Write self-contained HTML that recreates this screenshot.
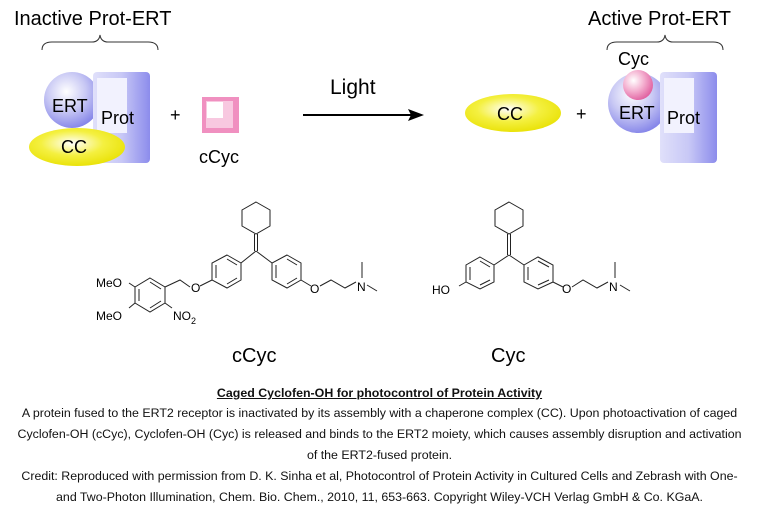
<!DOCTYPE html>
<html><head><meta charset="utf-8"><style>
body{margin:0;background:#fff;width:759px;height:515px;overflow:hidden;font-family:"Liberation Sans",sans-serif}
.cap{position:absolute;left:0;width:759px;text-align:center;font-size:12.4px;color:#111;line-height:21px}
</style></head><body>
<svg width="759" height="380" style="position:absolute;left:0;top:0" font-family="Liberation Sans, sans-serif">
<defs>
<radialGradient id="gb" cx="0.4" cy="0.35" r="0.7"><stop offset="0" stop-color="#fff"/><stop offset="0.5" stop-color="#c8c8f4"/><stop offset="1" stop-color="#8080e8"/></radialGradient>
<radialGradient id="gy" cx="0.45" cy="0.4" r="0.65"><stop offset="0" stop-color="#fff"/><stop offset="0.5" stop-color="#f4f040"/><stop offset="1" stop-color="#e8e000"/></radialGradient>
<radialGradient id="gp" cx="0.35" cy="0.35" r="0.7"><stop offset="0" stop-color="#fff"/><stop offset="0.5" stop-color="#f4b0d0"/><stop offset="1" stop-color="#e060a0"/></radialGradient>
<linearGradient id="gr" x1="0" y1="0" x2="1" y2="0"><stop offset="0" stop-color="#e0e0fa"/><stop offset="0.5" stop-color="#c8c8f6"/><stop offset="1" stop-color="#8c8cec"/></linearGradient>
</defs>
<g fill="#000" font-size="20">
<text x="14" y="25">Inactive Prot-ERT</text>
<text x="588" y="25">Active Prot-ERT</text>
</g>
<g fill="none" stroke="#333" stroke-width="1">
<path d="M42 50 Q42 42 52 42 L92 42 Q99 42 100 35 Q101 42 108 42 L148 42 Q158 42 158 50"/>
<path d="M607 50 Q607 42 617 42 L657 42 Q664 42 665 35 Q666 42 673 42 L713 42 Q723 42 723 50"/>
</g>
<!-- inactive -->
<circle cx="72" cy="100" r="28" fill="url(#gb)"/>
<rect x="93" y="72" width="57" height="91" rx="4" fill="url(#gr)"/>
<rect x="97" y="78" width="30" height="55" fill="#f2f2fe"/>
<ellipse cx="77" cy="147" rx="48" ry="19" fill="url(#gy)"/>
<rect x="202" y="97" width="37" height="36" fill="#f090c0"/>
<rect x="206" y="101" width="27" height="27" fill="#f8c8e0"/>
<rect x="207" y="102" width="16" height="16" fill="#fff"/>
<line x1="303" y1="115" x2="412" y2="115" stroke="#000" stroke-width="2"/>
<path d="M424 115 L408 109 L411 115 L408 121Z" fill="#000"/>
<!-- active -->
<ellipse cx="513" cy="113" rx="48" ry="19" fill="url(#gy)"/>
<circle cx="638" cy="103" r="30" fill="url(#gb)"/>
<circle cx="638" cy="85" r="15" fill="url(#gp)"/>
<rect x="660" y="72" width="57" height="91" rx="4" fill="url(#gr)"/>
<rect x="664" y="78" width="30" height="55" fill="#f2f2fe"/>
<g font-size="18" fill="#000">
<text x="52" y="112">ERT</text><text x="101" y="124">Prot</text><text x="61" y="153">CC</text>
<text x="170" y="121">+</text><text x="199" y="163">cCyc</text>
<text x="330" y="94" font-size="21">Light</text>
<text x="497" y="120">CC</text><text x="576" y="120">+</text>
<text x="618" y="65">Cyc</text><text x="619" y="119">ERT</text><text x="667" y="124">Prot</text>
</g>
<!-- cCyc molecule -->
<g fill="none" stroke="#222" stroke-width="1">
<polygon points="256,202 270,210 270,226 256,234 242,226 242,210"/>
<line x1="254.5" y1="234" x2="254.5" y2="251"/><line x1="257.5" y1="234" x2="257.5" y2="251"/>
<line x1="256" y1="251" x2="241" y2="263"/><line x1="256" y1="251" x2="272" y2="263"/>
<polygon points="227,255 241,263 241,280 227,288 212,280 212,263"/>
<path d="M227,259 L237,265 M237,278 L227,284 M216,278 L216,265"/>
<polygon points="287,255 301,263 301,280 287,288 272,280 272,263"/>
<path d="M287,259 L297,265 M297,278 L287,284 M276,278 L276,265"/>
<line x1="212" y1="280" x2="200" y2="286"/>
<path d="M190 287 L180 280 L165 287"/>
<polygon points="150,278 165,287 165,303 150,312 135,303 135,287"/>
<path d="M150,282 L161,289 M161,301 L150,308 M139,301 L139,289"/>
<line x1="135" y1="287" x2="129" y2="283"/><line x1="135" y1="303" x2="129" y2="308"/>
<line x1="165" y1="303" x2="172" y2="308"/>
<path d="M301 280 L311 286 M320 286 L331 280 L345 288 L356 282"/>
<path d="M362 278 L362 262 M367 285 L377 291"/>
</g>
<g font-size="12" fill="#000">
<text x="96" y="287">MeO</text><text x="96" y="320">MeO</text>
<text x="173" y="320">NO</text><text x="191" y="324" font-size="9">2</text>
<text x="191" y="292">O</text><text x="310" y="293">O</text><text x="357" y="291">N</text>
</g>
<!-- Cyc molecule -->
<g fill="none" stroke="#222" stroke-width="1">
<polygon points="509,202 523,210 523,226 509,234 495,226 495,210"/>
<line x1="507.5" y1="234" x2="507.5" y2="255"/><line x1="510.5" y1="234" x2="510.5" y2="255"/>
<line x1="509" y1="255" x2="494" y2="265"/><line x1="509" y1="255" x2="524" y2="265"/>
<polygon points="480,257 494,265 494,282 480,289 466,282 466,265"/>
<path d="M480,261 L490,267 M490,280 L480,285 M470,280 L470,267"/>
<polygon points="538,257 553,265 553,282 538,289 524,282 524,265"/>
<path d="M538,261 L549,267 M549,280 L538,285 M528,280 L528,267"/>
<line x1="466" y1="282" x2="459" y2="286"/>
<path d="M553 282 L563 287 M572 287 L583 280 L597 288 L608 282"/>
<path d="M615 278 L615 262 M620 285 L630 291"/>
</g>
<g font-size="12" fill="#000">
<text x="432" y="294">HO</text><text x="562" y="293">O</text><text x="609" y="291">N</text>
</g>
<text x="232" y="362" font-size="20">cCyc</text>
<text x="491" y="362" font-size="20">Cyc</text>
</svg>
<div class="cap" style="top:383px"><b><u>Caged Cyclofen-OH for photocontrol of Protein Activity</u></b></div>
<div class="cap" style="top:403px">A protein fused to the ERT2 receptor is inactivated by its assembly with a chaperone complex (CC). Upon photoactivation of caged<br>Cyclofen-OH (cCyc), Cyclofen-OH (Cyc) is released and binds to the ERT2 moiety, which causes assembly disruption and activation<br>of the ERT2-fused protein.</div>
<div class="cap" style="top:466px">Credit: Reproduced with permission from D. K. Sinha et al, Photocontrol of Protein Activity in Cultured Cells and Zebrash with One-<br>and Two-Photon Illumination, Chem. Bio. Chem., 2010, 11, 653-663. Copyright Wiley-VCH Verlag GmbH &amp; Co. KGaA.</div>
</body></html>
